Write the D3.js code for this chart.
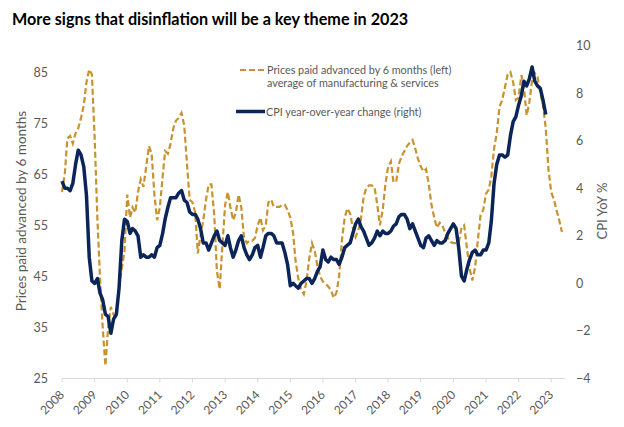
<!DOCTYPE html>
<html>
<head>
<meta charset="utf-8">
<script src="https://cdn.jsdelivr.net/npm/d3@7"></script>
<style>
  body { margin: 0; background: #fff; }
  text { font-family: Lato, "Open Sans", sans-serif; }
</style>
</head>
<body>
<div id="chart"></div>
<script>
// monthly values, first month is Jan 2008
const pricesPaid = [
    61.5, 65, 72, 72.5, 71, 73, 74, 76, 78.5, 83, 85.5, 84.5,      // 2008
    72, 56, 45, 35, 27.5, 35, 39, 37.5, 37, 43, 46.5, 50,          // 2009
    61, 56.5, 58.5, 57.5, 61.5, 64, 62.5, 66.5, 70.5, 69, 61, 56,  // 2010
    58.5, 64.5, 69.5, 69, 71, 74, 75.5, 76, 77, 74.5, 67, 60,      // 2011
    59.5, 57.5, 49.5, 53, 56, 60, 63, 63, 57, 46, 42.5, 51,        // 2012
    59, 61.5, 58.5, 56, 57.5, 61, 58.5, 52.5, 51.5, 52, 52, 52.5,  // 2013
    55, 56.5, 54, 55, 59.5, 60, 58.6, 58.6, 58.6, 59, 59, 58,      // 2014
    56.5, 53.5, 48, 44.5, 42.5, 41.5, 44, 48.5, 51.5, 50, 47, 45,  // 2015
    44, 43.5, 43, 42.3, 40.8, 41.8, 45, 52, 56.5, 58.3, 57.3, 54.5, // 2016
    52.7, 54, 56, 60.5, 62.3, 62.8, 62.8, 62.5, 59, 55, 58, 63,    // 2017
    66.5, 67.5, 63.5, 63.5, 67, 68.5, 69.5, 70.5, 71.2, 71.7, 70, 68, // 2018
    66.5, 65.5, 66, 63, 59, 56.5, 54.5, 55.5, 55, 53.5, 52.5, 51.7, // 2019
    51.5, 51.5, 51.5, 54.5, 55, 50.5, 46.5, 44.2, 46.8, 52, 57, 58, // 2020
    61.2, 62, 64.5, 70, 73, 78.2, 79.5, 82, 84.5, 85, 83, 79.5,    // 2021
    80, 84.4, 82, 76.5, 79, 83.5, 84.8, 84, 81, 78.5, 74, 66,      // 2022
    61.5, 60, 58, 56, 53.7                                          // 2023
];

const cpiYoY = [
    4.3, 4.0, 4.0, 3.9, 4.2, 5.0, 5.6, 5.4, 4.9, 3.7, 1.1, 0.1,    // 2008
    0.0, 0.2, -0.4, -0.7, -1.3, -1.4, -2.1, -1.5, -1.3, -0.2, 1.8, 2.7, // 2009
    2.6, 2.1, 2.3, 2.2, 2.0, 1.1, 1.2, 1.1, 1.1, 1.2, 1.1, 1.5,    // 2010
    1.6, 2.1, 2.7, 3.2, 3.6, 3.6, 3.6, 3.8, 3.9, 3.5, 3.4, 3.0,    // 2011
    2.9, 2.9, 2.7, 2.3, 1.7, 1.7, 1.4, 1.7, 2.0, 2.2, 1.8, 1.7,    // 2012
    1.6, 2.0, 1.5, 1.1, 1.4, 1.8, 2.0, 1.5, 1.2, 1.0, 1.2, 1.5,    // 2013
    1.6, 1.1, 1.5, 2.0, 2.1, 2.1, 2.0, 1.7, 1.7, 1.7, 1.3, 0.8,    // 2014
    -0.1, 0.0, -0.1, -0.2, 0.0, 0.1, 0.2, 0.2, 0.0, 0.2, 0.5, 0.7, // 2015
    1.4, 1.0, 0.9, 1.1, 1.0, 1.0, 0.8, 1.1, 1.5, 1.6, 1.7, 2.1,    // 2016
    2.5, 2.7, 2.4, 2.2, 1.9, 1.6, 1.7, 1.9, 2.2, 2.0, 2.2, 2.1,    // 2017
    2.1, 2.2, 2.4, 2.5, 2.8, 2.9, 2.9, 2.7, 2.3, 2.5, 2.2, 1.9,    // 2018
    1.6, 1.5, 1.9, 2.0, 1.8, 1.6, 1.8, 1.7, 1.7, 1.8, 2.1, 2.3,    // 2019
    2.5, 2.3, 1.5, 0.3, 0.1, 0.6, 1.0, 1.3, 1.4, 1.2, 1.2, 1.4,    // 2020
    1.4, 1.7, 2.6, 4.2, 5.0, 5.4, 5.4, 5.3, 5.4, 6.2, 6.8, 7.0,    // 2021
    7.5, 7.9, 8.5, 8.3, 8.6, 9.1, 8.5, 8.3, 8.2, 7.7, 7.1           // 2022
];

const years = d3.range(2008, 2024);
const leftTicks = [25, 35, 45, 55, 65, 75, 85];
const rightTicks = [-4, -2, 0, 2, 4, 6, 8, 10];

const title = "More signs that disinflation will be a key theme in 2023";
const legendPrices = ["Prices paid advanced by 6 months (left)", "average of manufacturing & services"];
const legendCpi = "CPI year-over-year change (right)";

const gold = "#c8922e";
const navy = "#0b2559";
const grey = "#595959";

const monthDate = i => new Date(2008, i, 1);

const svg = d3.select("#chart").append("svg")
    .attr("width", 624)
    .attr("height", 427);

svg.append("rect").attr("width", 624).attr("height", 427).attr("fill", "#fff");

const x = d3.scaleTime()
    .domain([new Date(2008, 0, 1), new Date(2023, 0, 1)])
    .range([62, 551.2]);

const yL = d3.scaleLinear().domain([25, 85]).range([378.5, 72]);
const yR = d3.scaleLinear().domain([-4, 10]).range([378.5, 45.5]);

// title
svg.append("text")
    .attr("x", 12)
    .attr("y", 25)
    .attr("font-size", 16.2)
    .attr("font-weight", "bold")
    .attr("fill", "#000")
    .text(title);

// left axis
const gl = svg.append("g")
    .attr("transform", "translate(48,0)")
    .call(d3.axisLeft(yL).tickValues(leftTicks).tickSize(0).tickPadding(0));
gl.select(".domain").remove();
gl.selectAll("text").attr("font-size", 12.5).attr("fill", grey).style("font-family", null);

// right axis
const gr = svg.append("g")
    .attr("transform", "translate(576,0)")
    .call(d3.axisRight(yR).tickValues(rightTicks).tickSize(0).tickPadding(0).tickFormat(d3.format("d")));
gr.select(".domain").remove();
gr.selectAll("text").attr("font-size", 12.5).attr("fill", grey).style("font-family", null);

// bottom axis
const gb = svg.append("g").attr("transform", "translate(0,378.5)");
gb.append("line")
    .attr("x1", x(new Date(2008, 0, 1)))
    .attr("x2", x(new Date(2023, 4, 1)) + 3)
    .attr("stroke", "#d9d9d9");
const tick = gb.selectAll(".tick")
    .data(years)
    .enter().append("g")
    .attr("transform", d => `translate(${x(new Date(d, 0, 1))},0)`);
tick.append("line").attr("y2", 4).attr("stroke", "#d9d9d9");
tick.append("text")
    .attr("transform", "translate(3,17) rotate(-45)")
    .attr("text-anchor", "end")
    .attr("font-size", 12)
    .attr("fill", grey)
    .text(d => d);

// axis titles
svg.append("text")
    .attr("transform", "translate(26,211) rotate(-90)")
    .attr("text-anchor", "middle")
    .attr("font-size", 13.5)
    .attr("fill", grey)
    .text("Prices paid advanced by 6 months");

svg.append("text")
    .attr("transform", "translate(607,211) rotate(-90)")
    .attr("text-anchor", "middle")
    .attr("font-size", 13)
    .attr("fill", grey)
    .text("CPI YoY %");

// series
const linePrices = d3.line()
    .x((d, i) => x(monthDate(i)))
    .y(d => yL(d));

const lineCpi = d3.line()
    .x((d, i) => x(monthDate(i)))
    .y(d => yR(d));

svg.append("path")
    .datum(pricesPaid)
    .attr("fill", "none")
    .attr("stroke", gold)
    .attr("stroke-width", 2.2)
    .attr("stroke-dasharray", "6,3")
    .attr("d", linePrices);

svg.append("path")
    .datum(cpiYoY)
    .attr("fill", "none")
    .attr("stroke", navy)
    .attr("stroke-width", 3.5)
    .attr("stroke-linejoin", "round")
    .attr("d", lineCpi);

// legend
const lg = svg.append("g");
lg.append("line")
    .attr("x1", 240).attr("x2", 264).attr("y1", 70).attr("y2", 70)
    .attr("stroke", gold).attr("stroke-width", 2.2).attr("stroke-dasharray", "6,3");
lg.append("text")
    .attr("x", 267).attr("y", 74)
    .attr("font-size", 10.8).attr("fill", grey)
    .selectAll("tspan")
    .data(legendPrices)
    .enter().append("tspan")
    .attr("x", 267)
    .attr("dy", (d, i) => i ? 13 : 0)
    .text(d => d);
lg.append("line")
    .attr("x1", 236).attr("x2", 265).attr("y1", 111.5).attr("y2", 111.5)
    .attr("stroke", navy).attr("stroke-width", 3.5);
lg.append("text")
    .attr("x", 266).attr("y", 115.5)
    .attr("font-size", 10.8).attr("fill", grey)
    .text(legendCpi);
</script>
</body>
</html>
